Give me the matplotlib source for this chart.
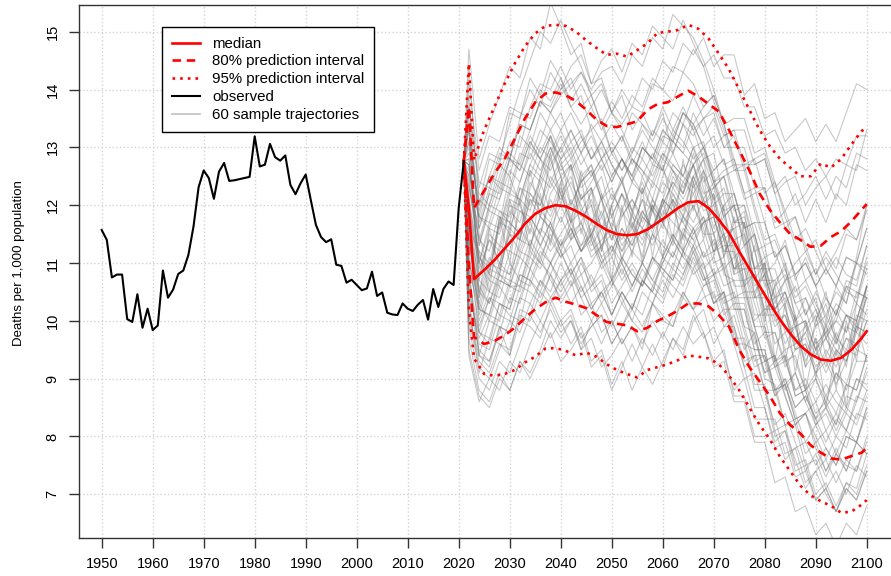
import numpy as np
import matplotlib
matplotlib.use("Agg")
import matplotlib.pyplot as plt
from matplotlib.lines import Line2D

plt.rcParams['font.family'] = ['Liberation Sans', 'DejaVu Sans']

# observed crude death rate (per 1,000)
obs_years = list(range(1950, 2022))
obs_rate = [11.57, 11.40, 10.75, 10.80, 10.80, 10.03, 9.98, 10.46, 9.88, 10.21,
            9.84, 9.92, 10.87, 10.40, 10.54, 10.81, 10.87, 11.14, 11.63, 12.31,
            12.60, 12.47, 12.11, 12.58, 12.73, 12.42, 12.43, 12.45, 12.47, 12.49,
            13.19, 12.67, 12.70, 13.06, 12.83, 12.77, 12.86, 12.35, 12.19, 12.38,
            12.53, 12.09, 11.66, 11.45, 11.36, 11.41, 10.97, 10.95, 10.66, 10.71,
            10.62, 10.53, 10.56, 10.85, 10.43, 10.49, 10.14, 10.11, 10.10, 10.30,
            10.21, 10.17, 10.28, 10.36, 10.02, 10.55, 10.24, 10.55, 10.68, 10.62,
            11.95, 12.76]

# projection: median and prediction intervals
q_years = [2021, 2022, 2023] + list(range(2025, 2100, 2)) + [2100]
q_median = [12.76, 11.95, 10.72, 10.88, 11.05, 11.25, 11.45, 11.68, 11.85, 11.95,
            12.00, 11.98, 11.90, 11.80, 11.68, 11.57, 11.50, 11.48, 11.50, 11.58,
            11.70, 11.82, 11.95, 12.05, 12.07, 11.95, 11.75, 11.52, 11.20, 10.90,
            10.60, 10.30, 10.02, 9.78, 9.57, 9.42, 9.33, 9.31, 9.36, 9.50,
            9.70, 9.82]
q_lo80 = [12.76, 10.95, 9.72, 9.60, 9.65, 9.75, 9.88, 10.05, 10.20, 10.32,
          10.40, 10.33, 10.28, 10.22, 10.10, 9.98, 9.95, 9.92, 9.82, 9.88,
          10.00, 10.08, 10.18, 10.30, 10.30, 10.25, 10.10, 9.90, 9.50, 9.20,
          8.95, 8.70, 8.40, 8.20, 8.05, 7.85, 7.72, 7.62, 7.60, 7.66,
          7.72, 7.80]
q_hi80 = [12.76, 13.70, 11.95, 12.25, 12.55, 12.80, 13.15, 13.50, 13.78, 13.93,
          13.95, 13.90, 13.80, 13.65, 13.48, 13.37, 13.35, 13.40, 13.45, 13.65,
          13.75, 13.78, 13.88, 13.98, 13.88, 13.75, 13.62, 13.30, 12.95, 12.60,
          12.20, 11.92, 11.70, 11.50, 11.40, 11.28, 11.30, 11.45, 11.55, 11.72,
          11.92, 12.02]
q_lo95 = [12.76, 10.20, 9.35, 9.08, 9.05, 9.08, 9.15, 9.28, 9.38, 9.52,
          9.53, 9.48, 9.40, 9.45, 9.38, 9.25, 9.15, 9.08, 9.02, 9.15,
          9.20, 9.25, 9.32, 9.40, 9.38, 9.35, 9.25, 9.05, 8.80, 8.50,
          8.20, 7.95, 7.65, 7.40, 7.15, 6.98, 6.88, 6.80, 6.68, 6.70,
          6.82, 6.90]
q_hi95 = [12.76, 14.45, 12.78, 13.30, 13.70, 14.10, 14.45, 14.75, 14.97, 15.10,
          15.12, 15.10, 15.00, 14.85, 14.72, 14.60, 14.62, 14.57, 14.68, 14.80,
          14.98, 15.00, 15.03, 15.12, 15.05, 14.88, 14.62, 14.35, 14.00, 13.65,
          13.30, 13.02, 12.80, 12.65, 12.50, 12.50, 12.72, 12.65, 12.80, 13.05,
          13.28, 13.35]

# sample trajectories, in tenths of a death per 1,000, every second year from 2022
traj_years = list(range(2022, 2101, 2))
traj = [
    [144,120,128,127,136,135,142,139,145,142,137,139,133,135,129,132,127,131,127,132,131,129,134,130,126,128,122,116,117,111,106,108,103,99,102,98,100,98,105,104],
    [109,94,92,99,94,100,99,97,103,99,101,95,100,96,100,96,99,95,103,100,99,105,102,104,105,99,101,95,98,91,93,88,91,86,90,86,91,88,93,93],
    [124,111,108,118,115,123,120,124,119,124,127,121,123,116,120,124,119,123,119,124,122,118,125,121,124,118,120,113,115,108,102,105,100,102,96,98,102,98,103,101],
    [114,102,101,108,107,114,121,120,127,130,133,129,134,131,134,131,136,134,132,137,133,137,133,128,129,121,115,107,108,99,93,95,88,89,84,86,82,89,88,94],
    [147,128,134,139,144,142,149,147,155,151,146,148,141,142,136,139,133,136,132,136,129,134,130,131,124,125,117,117,109,109,109,103,106,101,105,101,105,103,110,109],
    [97,88,86,91,88,93,90,94,98,93,95,98,92,94,88,92,96,92,96,92,97,95,101,97,99,94,88,90,83,83,83,77,78,72,74,76,72,76,74,79],
    [121,105,111,108,117,115,122,119,117,122,117,121,123,118,122,119,124,122,127,126,132,130,136,132,135,130,132,126,128,122,124,119,122,117,121,117,122,120,127,126],
    [107,98,96,103,101,100,107,104,108,103,106,108,103,105,107,103,106,110,107,111,115,112,116,118,112,113,113,106,108,102,104,98,99,92,95,91,95,93,99,98],
    [134,116,122,121,128,126,131,128,132,127,129,124,126,121,123,118,121,117,121,117,121,117,120,115,115,108,107,99,98,90,89,82,82,75,76,71,74,70,75,73],
    [116,112,105,118,110,121,112,122,113,124,114,125,114,122,107,120,111,123,111,121,114,128,119,126,111,120,108,117,104,110,93,103,91,100,90,100,88,100,93,106],
    [111,99,104,101,107,106,113,110,108,112,108,111,107,103,106,109,105,109,106,110,114,111,109,112,108,110,104,105,99,93,94,89,91,86,82,85,82,87,86,92],
    [131,122,120,127,125,132,130,136,133,129,133,129,132,128,131,128,125,130,128,133,131,136,134,130,132,127,128,122,123,117,111,113,108,110,106,109,106,111,110,116],
    [101,93,91,96,94,102,101,107,105,110,106,110,106,110,106,111,108,106,111,109,107,112,108,110,103,104,96,96,88,88,80,81,74,75,69,71,67,71,69,74],
    [127,110,117,116,123,121,119,125,130,125,127,121,124,127,121,124,119,124,119,125,129,125,130,124,126,128,120,120,112,113,104,107,108,101,104,97,101,106,103,109],
    [117,103,109,108,116,121,127,131,136,139,141,143,140,143,144,141,146,144,149,147,153,151,149,145,140,134,128,122,115,109,104,105,99,100,95,97,93,97,95,100],
    [113,106,103,109,108,116,113,118,116,112,116,112,116,111,113,108,112,116,113,117,113,118,116,111,114,109,111,104,104,104,96,98,93,88,91,87,91,89,95,94],
    [137,123,129,128,128,134,133,138,137,141,137,134,137,133,136,134,137,136,141,140,144,143,147,144,146,142,142,137,137,132,133,129,130,126,128,125,128,127,132,132],
    [94,86,90,88,93,91,96,100,97,100,102,97,99,101,96,99,102,99,103,107,104,108,112,107,108,102,102,102,95,95,88,89,83,84,86,81,84,81,86,91],
    [122,108,114,110,115,112,117,113,117,112,108,111,105,107,101,105,102,107,105,111,109,115,113,117,112,115,109,111,105,108,102,105,100,104,100,104,101,107,106,113],
    [131,107,115,113,120,119,117,123,128,122,125,119,122,125,118,122,116,121,115,121,126,122,127,120,122,115,116,117,109,110,101,103,95,98,101,94,98,94,100,106],
    [105,97,101,100,106,106,112,110,116,113,117,113,117,113,117,114,118,116,114,119,117,115,120,116,110,111,104,104,97,91,92,87,82,84,80,76,80,78,84,83],
    [127,114,120,125,131,130,137,141,140,144,140,143,139,134,138,135,139,137,142,140,138,143,141,137,139,134,127,127,120,114,115,110,105,107,103,99,103,101,100,106],
    [115,101,107,106,112,111,109,115,112,115,118,112,114,109,111,107,110,107,111,108,112,109,113,108,103,105,97,97,89,89,81,82,75,76,70,72,68,72,70,75],
    [125,118,117,123,122,121,127,125,123,127,123,118,120,115,111,115,112,110,115,113,111,116,114,117,118,112,114,115,109,111,112,107,110,112,108,112,109,115,114,120],
    [103,95,93,98,104,103,109,113,110,113,116,112,115,118,114,118,121,118,124,122,127,125,123,126,121,115,109,109,101,101,93,94,87,88,82,84,80,84,82,87],
    [139,115,108,117,125,120,115,125,132,125,117,126,120,112,120,125,117,111,121,127,120,114,124,128,118,111,117,119,109,100,106,110,100,92,100,105,97,92,103,111],
    [99,90,88,93,91,96,101,98,102,98,100,95,97,92,94,97,93,97,94,98,95,99,96,98,92,93,86,86,79,79,72,73,67,68,63,65,61,65,63,68],
    [123,116,122,128,134,140,145,150,148,152,148,144,139,141,136,133,129,133,130,128,133,131,128,130,124,119,120,114,107,107,100,101,95,96,91,93,89,93,98,96],
    [110,103,100,106,103,109,114,111,115,111,113,108,110,113,107,110,106,110,115,111,115,112,116,111,112,114,106,106,99,99,92,93,94,88,90,85,88,85,90,88],
    [133,119,125,124,123,129,128,133,131,128,131,127,130,126,129,126,130,128,133,131,136,134,139,135,137,132,133,133,127,128,122,124,125,120,123,125,121,127,126,133],
    [118,110,107,113,112,119,118,115,121,117,121,117,121,116,118,113,116,113,119,117,114,118,115,117,119,114,116,109,109,101,101,95,96,97,92,94,90,95,94,100],
    [129,121,119,124,129,127,132,129,133,136,131,133,128,130,125,128,124,128,125,129,126,124,127,121,115,109,103,96,95,88,88,82,83,77,79,74,77,74,79,77],
    [116,102,108,107,106,112,111,116,114,118,114,117,113,116,112,116,113,118,116,121,119,124,122,125,120,122,122,116,117,117,111,113,108,110,106,109,106,111,110,116],
    [108,94,100,99,98,104,103,100,104,100,96,99,93,95,89,93,88,92,89,93,97,94,100,102,96,99,99,92,94,94,87,90,85,87,83,87,84,89,88,94],
    [123,114,112,119,117,115,123,128,124,128,120,124,127,121,116,122,118,125,121,118,125,122,129,123,116,120,122,115,107,110,103,107,101,94,99,103,96,101,98,106],
    [133,118,125,130,128,135,140,137,143,140,144,146,141,145,147,143,148,146,151,149,147,152,148,144,138,133,126,126,119,113,114,109,103,104,99,101,97,101,99,104],
    [103,91,97,96,95,101,100,105,103,107,103,106,102,105,101,105,102,107,105,110,114,111,115,118,113,115,109,110,104,105,99,101,96,98,94,97,94,99,98,104],
    [128,113,120,119,118,124,130,128,126,130,126,129,125,128,124,128,125,130,128,133,131,136,134,137,139,134,135,135,129,130,124,118,113,107,109,104,101,106,105,104],
    [112,98,104,103,102,108,107,112,110,106,109,105,108,104,107,104,100,105,103,108,106,104,109,105,100,102,96,90,91,85,79,81,76,71,74,70,67,72,71,77],
    [119,111,109,116,122,128,133,138,136,140,142,137,139,134,129,132,128,125,129,126,123,127,124,119,120,114,108,109,103,97,98,93,88,90,86,89,86,84,90,89],
    [135,117,123,122,128,127,125,130,128,132,128,131,133,128,130,126,129,134,131,135,132,136,133,135,136,130,130,130,123,123,116,117,118,112,114,109,112,116,114,119],
    [115,100,105,110,108,113,118,115,122,125,120,124,126,121,125,128,124,130,128,126,131,129,127,130,125,119,112,106,99,93,94,87,82,84,78,74,78,74,79,77],
    [120,112,110,117,116,114,121,118,124,121,124,120,115,119,114,119,116,121,119,116,122,119,125,120,123,118,111,113,106,108,102,104,99,93,97,92,97,95,101,100],
    [95,87,85,90,88,93,91,95,100,97,100,96,99,101,96,99,103,101,106,104,109,107,112,108,103,105,99,93,94,88,82,84,79,74,77,73,77,75,74,80],
    [127,113,119,118,117,123,122,120,125,122,117,119,114,110,113,110,106,110,107,105,110,108,113,109,111,106,107,107,100,102,102,96,99,100,95,99,96,101,100,106],
    [141,126,132,131,137,136,135,140,138,142,138,141,137,140,136,140,137,142,140,145,143,148,146,149,144,146,146,139,141,135,136,131,133,135,131,134,131,136,141,140],
    [117,107,105,104,110,107,106,111,107,104,107,101,103,98,100,96,99,96,100,97,101,105,102,106,107,101,103,103,96,98,98,92,95,96,91,95,92,97,96,102],
    [130,120,125,123,128,126,131,128,132,128,130,125,127,122,118,122,119,116,120,117,121,118,122,117,118,112,112,105,105,98,92,94,87,88,83,85,81,85,83,88],
    [106,96,95,101,100,106,105,103,108,105,108,104,100,103,99,103,100,98,103,101,99,104,102,98,93,95,87,87,80,80,81,76,78,79,75,78,75,80,79,85],
    [125,110,116,115,121,120,126,124,129,133,129,132,128,131,127,124,128,126,123,128,126,123,127,122,123,125,126,127,127,128,122,116,118,113,108,111,108,105,110,108],
    [109,102,101,107,106,105,111,109,114,111,114,116,111,113,115,111,114,119,116,120,124,121,125,128,123,125,119,120,114,107,107,109,104,106,102,97,100,105,104,110],
    [134,104,116,109,121,114,126,118,129,120,127,115,123,112,120,110,119,110,120,111,121,112,124,114,122,111,118,106,113,101,106,93,101,88,97,85,95,85,100,93],
    [104,98,97,103,102,108,107,105,110,107,110,106,102,105,101,105,102,107,105,103,108,106,111,107,109,104,105,99,93,94,88,90,85,87,83,79,83,81,87,86],
    [137,124,123,129,128,134,133,138,136,133,136,132,128,131,127,124,128,126,124,129,127,125,130,126,121,123,117,118,112,106,107,102,97,99,95,98,95,93,99,98],
    [114,105,103,108,106,111,116,113,117,113,115,117,112,114,116,112,115,119,116,120,124,122,127,129,124,126,127,121,122,123,117,119,114,116,112,108,111,108,107,113],
    [100,92,90,95,100,98,103,107,104,107,109,104,106,108,103,106,109,106,110,114,111,115,112,114,108,109,102,102,95,95,88,89,83,84,79,81,77,81,79,84],
    [126,118,116,121,126,124,129,126,130,126,128,123,125,128,124,128,125,122,126,131,129,134,132,135,130,132,133,127,128,129,123,125,120,122,125,121,125,123,129,128],
    [118,104,110,109,115,114,113,118,116,120,116,112,115,111,107,111,108,106,111,109,107,112,110,106,108,103,104,98,92,93,87,89,84,79,82,78,75,80,79,85],
    [128,109,114,112,119,117,124,121,118,123,118,122,117,121,116,112,117,114,120,117,123,120,117,121,115,118,120,113,115,108,110,114,107,111,106,100,106,103,111,120],
    [101,94,93,99,98,104,109,106,110,114,110,113,115,110,112,116,113,118,116,121,119,117,114,110,104,105,98,92,85,85,78,79,73,74,69,71,67,71,69,74],
]

red = '#ff0000'
dashed = (0, (3.2, 2.2))
dotted = (0, (1.0, 1.9))

fig = plt.figure(figsize=(8.91, 5.76), dpi=100)
ax = fig.add_axes([79 / 891, 38 / 576, 818.3 / 891, 533 / 576])

# gray cloud of simulated paths, each starting from the last observation
t_x = [obs_years[-1]] + traj_years
for tr in traj:
    ax.plot(t_x, [obs_rate[-1]] + [v / 10 for v in tr],
            color='#707070', alpha=0.38, lw=0.8, zorder=2)

ax.plot(q_years, q_lo95, color=red, lw=1.9, ls=dotted, zorder=4)
ax.plot(q_years, q_hi95, color=red, lw=1.9, ls=dotted, zorder=4)
ax.plot(q_years, q_lo80, color=red, lw=1.9, ls=dashed, zorder=4)
ax.plot(q_years, q_hi80, color=red, lw=1.9, ls=dashed, zorder=4)
ax.plot(q_years, q_median, color=red, lw=1.9, zorder=5)
ax.plot(obs_years, obs_rate, color='black', lw=1.5, zorder=5)

ax.set_xlim(1945.55, 2106)
ax.set_ylim(6.244, 15.462)
ax.set_xticks(range(1950, 2101, 10))
ax.set_yticks(range(7, 16))
ax.grid(True, color='#d3d3d3', ls=':', lw=1)
ax.set_axisbelow(True)

ax.tick_params(direction='out', length=7, width=1, color='#333333', labelsize=10.5)
ax.tick_params(axis='y', labelrotation=90, pad=7)
ax.tick_params(axis='x', pad=7)
for lab in ax.get_yticklabels():
    lab.set_va('center')
for sp in ax.spines.values():
    sp.set_color('#333333')
    sp.set_linewidth(1)

ax.set_ylabel('Deaths per 1,000 population', fontsize=9.5)
ax.yaxis.set_label_coords(-0.066, 0.515)

handles = [Line2D([], [], color=red, lw=1.9),
           Line2D([], [], color=red, lw=1.9, ls=dashed),
           Line2D([], [], color=red, lw=1.9, ls=dotted),
           Line2D([], [], color='black', lw=1.5),
           Line2D([], [], color='#c0c0c0', lw=1.2)]
labels = ['median', '80% prediction interval', '95% prediction interval',
          'observed', '60 sample trajectories']
leg = ax.legend(handles, labels, loc='upper left',
                bbox_to_anchor=(83 / 818.3, 1 - 22 / 533), borderaxespad=0,
                fontsize=10.8, frameon=True, fancybox=False, framealpha=1,
                edgecolor='black', handlelength=1.9, handletextpad=0.8,
                labelspacing=0.25, borderpad=0.65)
leg.get_frame().set_linewidth(1)
leg.set_zorder(10)

fig.savefig('out.png', dpi=100)
